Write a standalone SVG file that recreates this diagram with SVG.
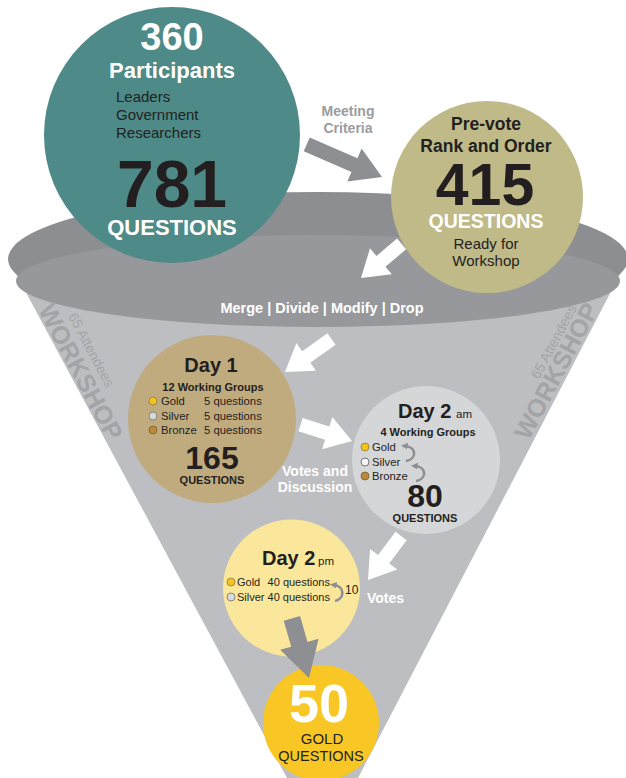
<svg xmlns="http://www.w3.org/2000/svg" width="626" height="778" viewBox="0 0 626 778">
<defs>
<style>
text{font-family:"Liberation Sans",Arial,Helvetica,sans-serif}
.b{font-weight:bold}
.m{text-anchor:middle}
.dk{fill:#231f20}
.wh{fill:#ffffff}
.ws{fill:#a3a4a8;font-weight:bold}
.arW{fill:#ffffff}
.arG{fill:#8e8f93}
.curve{fill:none;stroke:#8e8f93;stroke-width:2.6;marker-end:url(#ch)}
.gd{fill:#f6c31c;stroke:#8a7a4a;stroke-width:0.8}
.sv{fill:#d9dadc;stroke:#6f7074;stroke-width:0.8}
.br{fill:#b98a3b;stroke:#7a5c2a;stroke-width:0.8}
.leg{font-size:11.3px;fill:#231f20}
.legs{font-size:11px;fill:#231f20}
</style>
<marker id="ch" viewBox="0 0 10 10" refX="4" refY="5" markerWidth="2.6" markerHeight="2.6" orient="auto">
<path d="M0,0 L10,5 L0,10 Z" fill="#8e8f93"/>
</marker>
</defs>
<rect width="626" height="778" fill="#ffffff"/>

<g id="funnel">
<polygon points="8,259 628,259 358,778 287,778" fill="#bdbec2"/>
<ellipse cx="318" cy="259" rx="310" ry="67" fill="#8d8e92"/>
<ellipse cx="318" cy="281" rx="302" ry="46" fill="#97989c"/>
<text class="ws" font-size="25" text-anchor="middle" transform="translate(73,376) rotate(62)">WORKSHOP</text>
<text font-size="14" fill="#a3a4a8" text-anchor="middle" transform="translate(87,352) rotate(62)">65 Attendees</text>
<text class="ws" font-size="25" text-anchor="middle" transform="translate(564,375) rotate(-62)">WORKSHOP</text>
<text font-size="14" fill="#a3a4a8" text-anchor="middle" transform="translate(558,344) rotate(-62)">65 Attendees</text>
</g>

<g id="participants">
<circle cx="172" cy="135" r="128" fill="#4e8a87"/>
<text class="b m wh" x="172" y="50" font-size="38">360</text>
<text class="b m wh" x="172" y="78" font-size="22">Participants</text>
<text class="dk" x="116" y="102" font-size="15">Leaders</text>
<text class="dk" x="116" y="120" font-size="15">Government</text>
<text class="dk" x="116" y="138" font-size="15">Researchers</text>
<text class="b m dk" x="172" y="207" font-size="66">781</text>
<text class="b m wh" x="172" y="235" font-size="22">QUESTIONS</text>
</g>

<g id="prevote">
<circle cx="487" cy="197" r="96" fill="#bfba88"/>
<text class="b m dk" x="486" y="130" font-size="17.5">Pre-vote</text>
<text class="b m dk" x="486" y="152" font-size="17.5">Rank and Order</text>
<text class="b m dk" x="485" y="205" font-size="59">415</text>
<text class="b m wh" x="486" y="228" font-size="19.5">QUESTIONS</text>
<text class="m dk" x="486" y="249" font-size="15">Ready for</text>
<text class="m dk" x="486" y="266" font-size="15">Workshop</text>
</g>

<g id="day1">
<circle cx="212" cy="419" r="84" fill="#c0ab7f"/>
<text class="b m dk" x="211" y="372" font-size="20">Day 1</text>
<text class="b m dk" x="213" y="391" font-size="11">12 Working Groups</text>
<circle class="gd" cx="153" cy="401" r="4"/>
<circle class="sv" cx="153" cy="416" r="4"/>
<circle class="br" cx="153" cy="430" r="4"/>
<text class="leg" x="161" y="405">Gold</text>
<text class="leg" x="161" y="420">Silver</text>
<text class="leg" x="161" y="434">Bronze</text>
<text class="leg" x="204" y="405">5 questions</text>
<text class="leg" x="204" y="420">5 questions</text>
<text class="leg" x="204" y="434">5 questions</text>
<text class="b m dk" x="212" y="469" font-size="32">165</text>
<text class="b m dk" x="212" y="484" font-size="11">QUESTIONS</text>
</g>

<g id="day2am">
<circle cx="426" cy="460" r="74" fill="#d5d6d8"/>
<text class="b dk" x="398" y="418" font-size="20">Day 2</text>
<text class="dk" x="456" y="418" font-size="11.5">am</text>
<text class="b m dk" x="428" y="436" font-size="11">4 Working Groups</text>
<circle class="gd" cx="365" cy="447" r="4"/>
<circle cx="365" cy="462" r="4" fill="#f7f7f7" stroke="#55565a" stroke-width="0.8"/>
<circle class="br" cx="365" cy="476" r="4"/>
<text class="leg" x="372" y="451">Gold</text>
<text class="leg" x="372" y="466">Silver</text>
<text class="leg" x="372" y="480">Bronze</text>
<path class="curve" d="M406,461 C417,459 417,447 405,446"/>
<path class="curve" d="M416,481 C427,479 427,467 415,466"/>
<text class="b m dk" x="425" y="507" font-size="32">80</text>
<text class="b m dk" x="425" y="522" font-size="11">QUESTIONS</text>
</g>

<g id="day2pm">
<circle cx="291.5" cy="588" r="68.5" fill="#fbe79b"/>
<text class="b dk" x="262" y="565" font-size="20">Day 2</text>
<text class="dk" x="318" y="565" font-size="11.5">pm</text>
<circle class="gd" cx="231" cy="582" r="4"/>
<circle class="sv" cx="231" cy="597" r="4"/>
<text class="legs" x="237" y="586">Gold</text>
<text class="legs" x="267.6" y="586">40 questions</text>
<text class="legs" x="237" y="601">Silver 40 questions</text>
<path class="curve" d="M335,601 C345,599 345,586 334,585"/>
<text class="dk" x="345" y="594" font-size="12">10</text>
</g>

<g id="gold50">
<circle cx="321" cy="723" r="58" fill="#f8c625"/>
<text class="b m wh" x="319" y="722" font-size="54">50</text>
<text class="m dk" x="322" y="744" font-size="15">GOLD</text>
<text class="m dk" x="321" y="761" font-size="14.5">QUESTIONS</text>
</g>

<g id="connectors">
<path class="arG" transform="translate(382,177) rotate(23.4)" d="M0,0 L-30,-18 L-30,-7.5 L-82,-7.5 L-82,7.5 L-30,7.5 L-30,18 Z"/>
<path class="arW" transform="translate(361,278) rotate(140)" d="M0,0 L-26,-17 L-26,-7 L-53,-7 L-53,7 L-26,7 L-26,17 Z"/>
<path class="arW" transform="translate(285,372) rotate(144.7)" d="M0,0 L-26,-17 L-26,-7 L-57,-7 L-57,7 L-26,7 L-26,17 Z"/>
<path class="arW" transform="translate(352,441) rotate(17.7)" d="M0,0 L-26,-17 L-26,-7 L-54,-7 L-54,7 L-26,7 L-26,17 Z"/>
<path class="arW" transform="translate(368,580) rotate(127)" d="M0,0 L-26,-17 L-26,-7 L-55,-7 L-55,7 L-26,7 L-26,17 Z"/>
<path class="arG" transform="translate(309,678) rotate(74)" d="M0,0 L-35,-20 L-35,-8.5 L-62,-8.5 L-62,8.5 L-35,8.5 L-35,20 Z"/>
</g>

<g id="labels">
<text class="b m" x="348" y="116" font-size="14" fill="#9b9ca0">Meeting</text>
<text class="b m" x="348" y="133" font-size="14" fill="#9b9ca0">Criteria</text>
<text class="b m wh" x="322" y="313" font-size="14.5">Merge | Divide | Modify | Drop</text>
<text class="b m wh" x="315" y="476" font-size="14">Votes and</text>
<text class="b m wh" x="315" y="492" font-size="14">Discussion</text>
<text class="b wh" x="367" y="603" font-size="14">Votes</text>
</g>
</svg>
